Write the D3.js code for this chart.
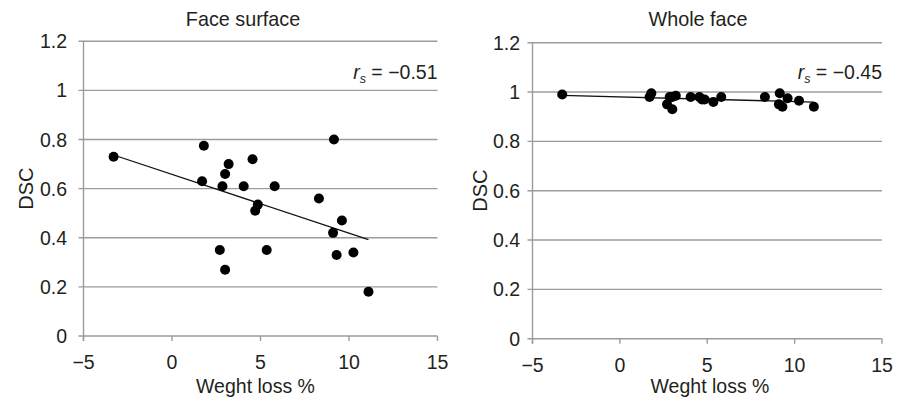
<!DOCTYPE html>
<html>
<head>
<meta charset="utf-8">
<script src="https://cdn.jsdelivr.net/npm/d3@7"></script>
<style>
  body { margin: 0; background: #fff; }
  text { font-family: "Liberation Sans", Arial, sans-serif; fill: #231f20; }
</style>
</head>
<body>
<svg id="chart" width="901" height="402"></svg>
<script>
// Weight loss (%) per subject, shared by both panels
const weightLoss = [-3.3, 1.7, 1.8, 2.7, 2.85, 3.0, 3.0, 3.2, 4.05, 4.55, 4.7, 4.85, 5.35, 5.8, 8.3, 9.1, 9.15, 9.3, 9.6, 10.25, 11.1];
// DSC values
const dscSurface = [0.73, 0.63, 0.775, 0.35, 0.61, 0.66, 0.27, 0.70, 0.61, 0.72, 0.51, 0.535, 0.35, 0.61, 0.56, 0.42, 0.80, 0.33, 0.47, 0.34, 0.18];
const dscWhole = [0.99, 0.98, 0.995, 0.95, 0.98, 0.93, 0.98, 0.985, 0.98, 0.98, 0.97, 0.97, 0.96, 0.98, 0.98, 0.95, 0.995, 0.94, 0.975, 0.965, 0.94];

const titles = ['Face surface', 'Whole face'];
const rsLabels = ['\u22120.51', '\u22120.45'];
const xTicks = [-5, 0, 5, 10, 15];
const yTicks = [0, 0.2, 0.4, 0.6, 0.8, 1, 1.2];

const panels = [
    { values: dscSurface, title: titles[0], rs: rsLabels[0], left: 83.5, right: 437.5, top: 41.3, bottom: 336,
      titleX: 243, labelX: 255.5, dscX: 32.5, yLabGap: 16.5 },
    { values: dscWhole, title: titles[1], rs: rsLabels[1], left: 532.5, right: 882, top: 42.7, bottom: 338.7,
      titleX: 698, labelX: 710, dscX: 486.5, yLabGap: 12.5 }
];

const svg = d3.select('#chart');
svg.append('rect').attr('width', 901).attr('height', 402).attr('fill', '#fff');

panels.forEach(p => drawPanel(p));

function drawPanel(p) {
    const x = d3.scaleLinear().domain([-5, 15]).range([p.left, p.right]);
    const y = d3.scaleLinear().domain([0, 1.2]).range([p.bottom, p.top]);
    const g = svg.append('g');
    const grey = '#9c9c9c';

    // Horizontal gridlines
    g.selectAll('.grid')
        .data(yTicks)
        .join('line')
        .attr('x1', x(-5) - 5)
        .attr('x2', x(15))
        .attr('y1', d => y(d))
        .attr('y2', d => y(d))
        .attr('stroke', grey)
        .attr('stroke-width', 1.4);

    // Y axis line
    g.append('line')
        .attr('x1', x(-5)).attr('x2', x(-5))
        .attr('y1', y(1.2)).attr('y2', y(0) + 5)
        .attr('stroke', grey).attr('stroke-width', 1.4);

    // X ticks
    g.selectAll('.xtick')
        .data(xTicks)
        .join('line')
        .attr('x1', d => x(d)).attr('x2', d => x(d))
        .attr('y1', y(0)).attr('y2', y(0) + 5)
        .attr('stroke', grey).attr('stroke-width', 1.4);

    // Tick labels
    g.selectAll('.xlab')
        .data(xTicks)
        .join('text')
        .attr('x', d => x(d))
        .attr('y', y(0) + 33)
        .attr('text-anchor', 'middle')
        .style('font-size', '19.5px')
        .text(d => d < 0 ? '\u2212' + Math.abs(d) : d);

    g.selectAll('.ylab')
        .data(yTicks)
        .join('text')
        .attr('x', x(-5) - p.yLabGap)
        .attr('y', d => y(d) + 7)
        .attr('text-anchor', 'end')
        .style('font-size', '19.5px')
        .text(d => d);

    // Axis titles
    g.append('text')
        .attr('x', p.labelX)
        .attr('y', 393)
        .attr('text-anchor', 'middle')
        .style('font-size', '19.5px')
        .text('Weght loss %');

    g.append('text')
        .attr('transform', `translate(${p.dscX},${(p.top + p.bottom) / 2}) rotate(-90)`)
        .attr('text-anchor', 'middle')
        .style('font-size', '20px')
        .text('DSC');

    // Title
    g.append('text')
        .attr('x', p.titleX)
        .attr('y', 26)
        .attr('text-anchor', 'middle')
        .style('font-size', '19.8px')
        .text(p.title);

    // r_s annotation
    const rs = g.append('text')
        .attr('x', p.right)
        .attr('y', 79)
        .attr('text-anchor', 'end')
        .style('font-size', '19.5px');
    rs.append('tspan').style('font-style', 'italic').text('r');
    rs.append('tspan').style('font-style', 'italic').style('font-size', '12.5px').attr('dy', 4).text('s');
    rs.append('tspan').attr('dy', -4).text(' = ' + p.rs);

    // Linear trendline (least squares)
    const pts = weightLoss.map((w, i) => ({ x: w, y: p.values[i] }));
    const mx = d3.mean(pts, d => d.x);
    const my = d3.mean(pts, d => d.y);
    const slope = d3.sum(pts, d => (d.x - mx) * (d.y - my)) / d3.sum(pts, d => (d.x - mx) ** 2);
    const icpt = my - slope * mx;
    const [x0, x1] = d3.extent(weightLoss);

    g.append('line')
        .attr('x1', x(x0)).attr('y1', y(icpt + slope * x0))
        .attr('x2', x(x1)).attr('y2', y(icpt + slope * x1))
        .attr('stroke', '#111').attr('stroke-width', 1.3);

    // Points
    g.selectAll('.dot')
        .data(pts)
        .join('circle')
        .attr('cx', d => x(d.x))
        .attr('cy', d => y(d.y))
        .attr('r', 5)
        .attr('fill', '#000');
}
</script>
</body>
</html>
